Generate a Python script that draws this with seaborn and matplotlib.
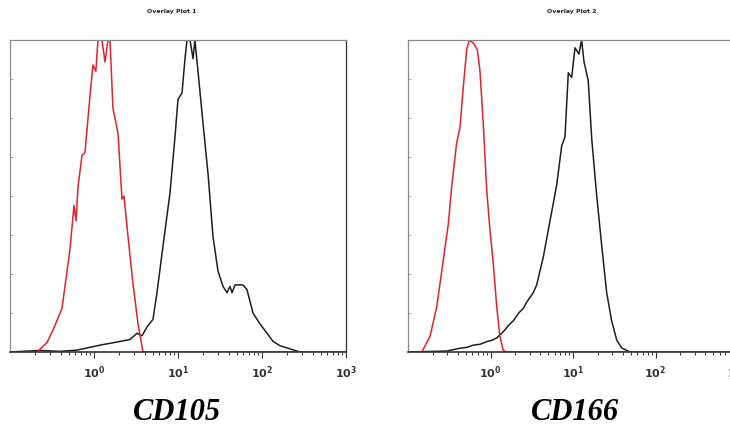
import numpy as np
import pandas as pd
import matplotlib
matplotlib.use("Agg")
import matplotlib.pyplot as plt
import seaborn as sns
from matplotlib.ticker import LogLocator, FixedLocator, NullFormatter

# ---------------- data (intensity, % of max count) ----------------
cd105_iso_x = [0.20, 0.21, 0.275, 0.325, 0.416, 0.518, 0.578, 0.611, 0.646, 0.719, 0.782,
               0.895, 0.973, 1.05, 1.117, 1.245, 1.352, 1.469, 1.549, 1.683, 1.778,
               1.932, 2.153, 2.275, 2.541, 2.911, 3.342, 3.828, 1000]
cd105_iso_y = [0, 0, 3, 7, 14, 33, 47, 42, 53, 63, 64,
               82, 92, 90, 100, 100, 93, 100, 100, 78, 75,
               70, 49, 50, 37, 22, 9, 0, 0]

cd105_x = [0.1, 0.228, 0.394, 0.628, 0.826, 1.18, 1.88, 2.68, 3.25, 3.73, 4.27, 5.04,
           5.62, 6.63, 8.03, 9.21, 10.0, 11.16, 12.11, 12.8, 13.9, 15.1, 15.9, 17.3,
           19.9, 22.8, 26.1, 29.9, 34.4, 38.3, 41.6, 44.0, 47.7, 59.4, 66.2, 78.1,
           94.6, 114.8, 135.3, 163.8, 204, 261, 282, 1000]
cd105_y = [0, 0.5, 0.2, 0.6, 1.3, 2.2, 3.2, 4, 6, 5.2, 8, 10.5,
           19, 34, 51, 69, 81, 83, 94, 100, 100, 94, 100, 90,
           73, 57, 37, 26, 21, 19, 21, 19, 21.5, 21.5, 20, 12.5,
           9, 6, 3.4, 2, 1.2, 0.3, 0, 0]

cd166_iso_x = [0.14, 0.147, 0.185, 0.223, 0.268, 0.308, 0.339, 0.354, 0.389, 0.427, 0.468,
               0.515, 0.553, 0.619, 0.692, 0.746, 0.818, 0.899, 0.986, 1.08, 1.19,
               1.30, 1.43, 1.57, 1000]
cd166_iso_y = [0, 0, 5, 14.5, 29.5, 41, 53, 57.6, 67, 72, 85,
               97, 100, 99, 97, 90, 73, 52, 39, 28.5, 14.5,
               5, 0.5, 0, 0]

cd166_x = [0.1, 0.294, 0.427, 0.52, 0.619, 0.75, 0.899, 1.05, 1.19, 1.43, 1.65, 1.89,
           2.2, 2.5, 2.75, 3.01, 3.3, 3.63, 4.37, 5.26, 6.34, 7.29, 8.0, 8.77,
           9.64, 10.57, 11.8, 12.7, 13.6, 15.3, 16.9, 19.4, 22.3, 25.6, 29.4,
           33.9, 38.9, 49.1, 1000]
cd166_y = [0, 0.3, 1.2, 1.5, 2.2, 2.5, 3.3, 3.8, 4.5, 6.5, 8.5, 10,
           12.5, 14, 16, 17.5, 19, 21.5, 30.5, 42, 53.5, 66, 69, 89.5,
           88, 97.5, 95.5, 100, 93, 87, 68, 50, 34, 19, 10,
           3.8, 1.3, 0, 0]

titles = ["Overlay Plot 1", "Overlay Plot 2"]
markers = ["CD105", "CD166"]
tick_vals = [1, 10, 100, 1000]
tick_labels = [r"$\mathbf{10^{0}}$", r"$\mathbf{10^{1}}$", r"$\mathbf{10^{2}}$", r"$\mathbf{10^{3}}$"]

RED = "#e3202b"
BLACK = "#1e1e1e"

sns.set_style("white")
fig = plt.figure(figsize=(7.30, 4.28), dpi=100)
W, H = 730.0, 428.0

panels = [
    dict(left=10, right=346, stain=(cd105_x, cd105_y), iso=(cd105_iso_x, cd105_iso_y),
         title_x=172, label_x=177),
    dict(left=408, right=738, stain=(cd166_x, cd166_y), iso=(cd166_iso_x, cd166_iso_y),
         title_x=572, label_x=575),
]
top, bottom = 40, 352

for i, p in enumerate(panels):
    ax = fig.add_axes([p["left"] / W, (H - bottom) / H,
                       (p["right"] - p["left"]) / W, (bottom - top) / H])
    ax.set_xscale("log")
    sx, sy = p["stain"]
    ix, iy = p["iso"]
    sns.lineplot(x=sx, y=sy, ax=ax, color=BLACK, lw=1.1, sort=False, estimator=None)
    sns.lineplot(x=ix, y=iy, ax=ax, color=RED, lw=1.1, sort=False, estimator=None)
    ax.set_xlim(0.1, 1000)
    ax.set_ylim(0, 100)
    ax.set_xlabel("")
    ax.set_ylabel("")

    ax.xaxis.set_major_locator(FixedLocator(tick_vals))
    ax.set_xticklabels(tick_labels)
    ax.xaxis.set_minor_locator(LogLocator(base=10, subs=np.arange(2, 10)))
    ax.xaxis.set_minor_formatter(NullFormatter())
    ax.tick_params(axis="x", which="major", direction="out", length=4, width=0.8,
                   colors="#333333", labelsize=8, pad=5, bottom=True)
    ax.tick_params(axis="x", which="minor", direction="out", length=2.5, width=0.7,
                   colors="#333333", bottom=True)
    ax.yaxis.set_major_locator(FixedLocator(np.arange(12.5, 100, 12.5)))
    ax.set_yticklabels([])
    ax.tick_params(axis="y", which="major", direction="in", length=2, width=0.6,
                   colors="#999999", left=True)

    for side in ["top", "left"]:
        ax.spines[side].set_color("#8a8a8a")
        ax.spines[side].set_linewidth(0.9)
    ax.spines["right"].set_color("#333333")
    ax.spines["right"].set_linewidth(0.9)
    ax.spines["bottom"].set_color("#333333")
    ax.spines["bottom"].set_linewidth(1.2)

    fig.text(p["title_x"] / W, 1 - 12 / H, titles[i], fontsize=4.5, fontweight="bold",
             ha="center", va="center", color="#222222")
    fig.text(p["label_x"] / W, 1 - 412 / H, markers[i], fontsize=22,
             family="Liberation Serif", fontweight="bold", style="italic",
             ha="center", va="center", color="black")

fig.savefig("out.png", dpi=100)
